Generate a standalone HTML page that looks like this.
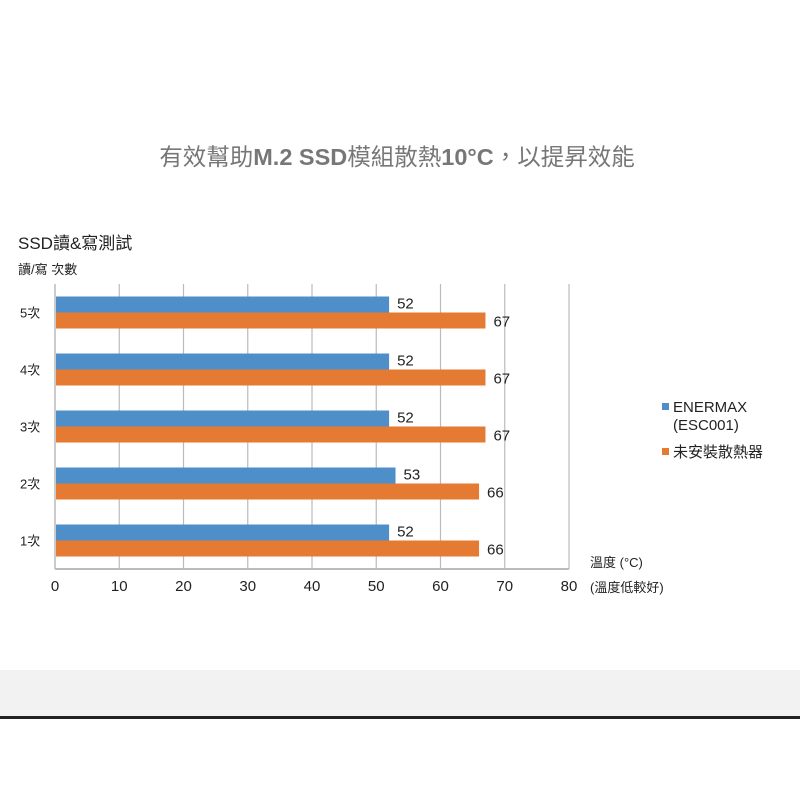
<!DOCTYPE html>
<html><head><meta charset="utf-8"><style>
body{margin:0;width:800px;height:800px;background:#fff;overflow:hidden;font-family:"Liberation Sans","Noto Sans CJK TC",sans-serif}
svg text{font-family:"Liberation Sans","Noto Sans CJK TC",sans-serif}
</style></head><body>
<svg width="800" height="800">
<rect x="0" y="670" width="800" height="47" fill="#f2f2f2"/>
<rect x="0" y="716" width="800" height="3" fill="#222"/>
<text x="397" y="165" text-anchor="middle" font-size="23.5" fill="#777">有效幫助<tspan font-weight="bold">M.2 SSD</tspan>模組散熱<tspan font-weight="bold">10°C</tspan>，以提昇效能</text>
<text x="18" y="249" font-size="17" fill="#222">SSD讀&amp;寫測試</text>
<text x="18" y="274" font-size="13" fill="#222">讀/寫 次數</text>
<text x="590" y="567" font-size="13" fill="#222">溫度 (°C)</text>
<text x="590" y="592" font-size="13" fill="#222">(溫度低較好)</text>
<g id="grid"></g><g id="bars"></g><g id="axes"></g>
<g>
<rect x="662" y="403" width="7" height="7" fill="#4f8fc9"/>
<text x="673" y="412" font-size="15" fill="#222">ENERMAX</text>
<text x="673" y="430" font-size="15" fill="#222">(ESC001)</text>
<rect x="662" y="448" width="7" height="7" fill="#e57a32"/>
<text x="673" y="457" font-size="15" fill="#222">未安裝散熱器</text>
</g>
</svg>
<script>
const categories=["5次","4次","3次","2次","1次"];
const enermax=[52,52,52,53,52];
const noHeatsink=[67,67,67,66,66];
const xTicks=[0,10,20,30,40,50,60,70,80];
const NS="http://www.w3.org/2000/svg";
const x0=55,x1=569,xmax=80,yTop=284,yBottom=569;
const xs=v=>x0+(v/xmax)*(x1-x0);
const band=(yBottom-yTop)/categories.length;
const yb=i=>yTop+i*band;
function mk(tag,attrs,parent){const e=document.createElementNS(NS,tag);for(const k in attrs)e.setAttribute(k,attrs[k]);document.getElementById(parent).appendChild(e);return e;}
xTicks.forEach(t=>{
 if(t>0){const g=mk("line",{x1:xs(t),x2:xs(t),y1:yTop,y2:yBottom,stroke:"#bbb","stroke-width":1.2},"grid");
 
 }
 const tl=mk("text",{x:xs(t),y:yBottom+22,"text-anchor":"middle","font-size":15,fill:"#222"},"axes");
 tl.textContent=t;
 
 
});
const ax=mk("line",{x1:x0,x2:x1,y1:yBottom,y2:yBottom,stroke:"#bbb","stroke-width":2},"axes");


const ay=mk("line",{x1:x0,x2:x0,y1:yTop,y2:yBottom,stroke:"#bbb","stroke-width":1.5},"axes");


categories.forEach((c,i)=>{
 const cy=yb(i)+band/2;
 const l=mk("text",{x:20,y:cy+5,"font-size":13,fill:"#222"},"axes");
 l.textContent=c;
 
 
 const b1=mk("rect",{x:x0+1,y:cy-16,width:xs(enermax[i])-x0-1,height:16,fill:"#4f8fc9"},"bars");
 
 
 const b2=mk("rect",{x:x0+1,y:cy,width:xs(noHeatsink[i])-x0-1,height:16,fill:"#e57a32"},"bars");
 
 
 const t1=mk("text",{x:xs(enermax[i])+8,y:cy-4,"font-size":15,fill:"#222"},"bars");
 t1.textContent=enermax[i];
 
 
 const t2=mk("text",{x:xs(noHeatsink[i])+8,y:cy+14,"font-size":15,fill:"#222"},"bars");
 t2.textContent=noHeatsink[i];
 
 
});
</script>
</body></html>
